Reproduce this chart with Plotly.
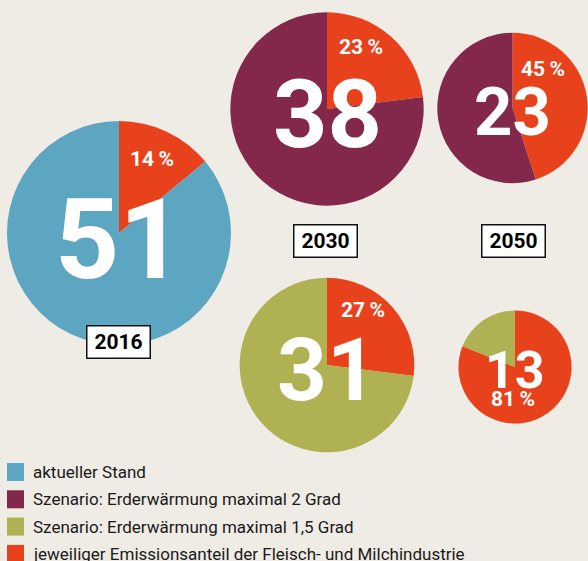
import math
import plotly.graph_objects as go

# Emissions totals (Gt CO2-equivalent) and the meat & dairy share of each
labels = ["2016", "2030", "2050", "2030 (1,5 Grad)", "2050 (1,5 Grad)"]
totals = [51, 38, 23, 31, 13]
shares = [14, 23, 45, 27, 81]
year_tags = ["2016", "2030", "2050", None, None]

legend_labels = [
    "aktueller Stand",
    "Szenario: Erderwärmung maximal 2 Grad",
    "Szenario: Erderwärmung maximal 1,5 Grad",
    "jeweiliger Emissionsanteil der Fleisch- und Milchindustrie",
]

BLUE = "#5ca6c2"
PURPLE = "#83274b"
OLIVE = "#b0b152"
RED = "#e8421c"
BG = "#efebe5"
base_colors = [BLUE, PURPLE, PURPLE, OLIVE, OLIVE]
legend_colors = [BLUE, PURPLE, OLIVE, RED]

W, H = 588, 561
R_MAX = 112  # radius of the largest circle in px
centers = [(119, 233), (327, 109), (512.5, 108), (327, 365), (515, 367)]
share_pos = [(152, 159), (361, 47), (543, 69), (363, 310), (513, 399)]
tag_pos = {0: (118.5, 342), 1: (325.5, 241), 2: (513, 241)}
big_sizes = [112, 95, 67, 87, 52]

FONT = "Roboto, Arial"


def clamp(v):
    return min(1.0, max(0.0, v))


fig = go.Figure()
annotations = []

for i, (total, share) in enumerate(zip(totals, shares)):
    cx, cy = centers[i]
    r = R_MAX * math.sqrt(total / totals[0])
    fig.add_trace(go.Pie(
        values=[share, 100 - share],
        labels=["Fleisch & Milch", labels[i]],
        marker=dict(colors=[RED, base_colors[i]], line=dict(width=0)),
        sort=False,
        direction="clockwise",
        rotation=0,
        textinfo="none",
        hoverinfo="skip",
        showlegend=False,
        domain=dict(x=[clamp((cx - r) / W), clamp((cx + r) / W)],
                    y=[clamp(1 - (cy + r) / H), clamp(1 - (cy - r) / H)]),
    ))
    big = big_sizes[i]
    annotations.append(dict(
        x=cx / W, y=1 - (cy + big * 0.06) / H, xref="paper", yref="paper",
        text=f"<b>{total}</b>", showarrow=False,
        font=dict(family=FONT, size=big, color="white"),
        xanchor="center", yanchor="middle",
    ))
    sx, sy = share_pos[i]
    annotations.append(dict(
        x=sx / W, y=1 - sy / H, xref="paper", yref="paper",
        text=f"<b>{share}\u2009%</b>", showarrow=False,
        font=dict(family=FONT, size=21, color="white"),
        xanchor="center", yanchor="middle",
    ))
    if year_tags[i]:
        tx, ty = tag_pos[i]
        annotations.append(dict(
            x=tx / W, y=1 - ty / H, xref="paper", yref="paper",
            text=f"<b>{year_tags[i]}</b>", showarrow=False,
            font=dict(family=FONT, size=21, color="black"),
            bgcolor="white", bordercolor="#111", borderwidth=1.5,
            borderpad=3, width=56, height=25,
            xanchor="center", yanchor="middle",
        ))

# legend rows
shapes = []
row_top = 463
row_step = 27.3
for k, (txt, col) in enumerate(zip(legend_labels, legend_colors)):
    top = row_top + k * row_step
    shapes.append(dict(
        type="rect", xref="paper", yref="paper",
        x0=7 / W, x1=24 / W, y0=1 - (top + 18) / H, y1=1 - top / H,
        fillcolor=col, line=dict(width=0),
    ))
    annotations.append(dict(
        x=31 / W, y=1 - (top + 9) / H, xref="paper", yref="paper",
        text=txt, showarrow=False,
        font=dict(family=FONT, size=17, color="#1a1a1a"),
        xanchor="left", yanchor="middle",
    ))

fig.update_layout(
    width=W, height=H,
    margin=dict(l=0, r=0, t=0, b=0),
    paper_bgcolor=BG, plot_bgcolor=BG,
    annotations=annotations, shapes=shapes,
    showlegend=False,
)

fig.write_html("out.html")
